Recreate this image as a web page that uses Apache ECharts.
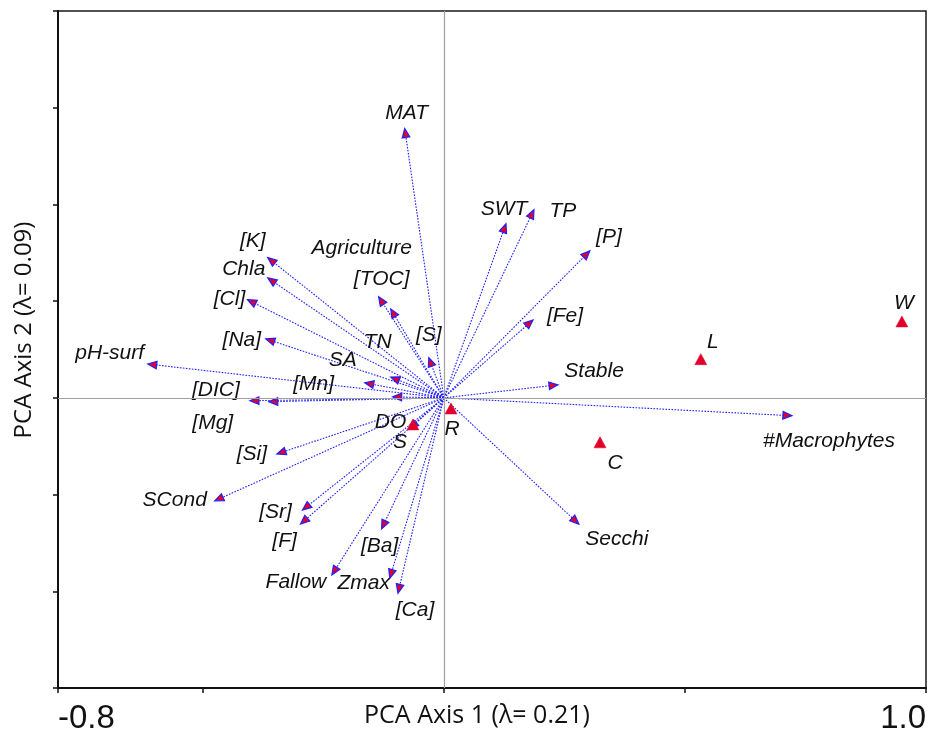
<!DOCTYPE html>
<html>
<head>
<meta charset="utf-8">
<script src="https://cdn.jsdelivr.net/npm/echarts@6/dist/echarts.min.js"></script>
<style>
  html, body { margin: 0; padding: 0; background: #fff; }
  #chart { width: 928px; height: 729px; }
</style>
</head>
<body>
<div id="chart"></div>
<script>
// Environmental variables (biplot arrows): loadings on PCA axes 1 and 2
const variableNames = [
  'MAT', 'SWT', 'TP', '[P]', '[Fe]', 'Stable', '#Macrophytes', 'Secchi',
  '[Ca]', 'Zmax', 'Fallow', '[Ba]', '[F]', '[Sr]', 'SCond', '[Si]', 'DO',
  '[Mg]', '[DIC]', 'pH-surf', '[Na]', '[Cl]', 'Chla', '[K]', '[Mn]', 'SA',
  'TN', '[TOC]', 'Agriculture', '[S]'
];
const axis1Loadings = [
  -0.081, 0.129, 0.187, 0.303, 0.185, 0.237, 0.722, 0.280,
  -0.095, -0.112, -0.232, -0.129, -0.297, -0.293, -0.475, -0.346, -0.071,
  -0.363, -0.402, -0.614, -0.369, -0.407, -0.365, -0.365, -0.164, -0.106,
  -0.110, -0.135, -0.110, -0.031
];
const axis2Loadings = [
  0.557, 0.360, 0.389, 0.304, 0.161, 0.027, -0.037, -0.261,
  -0.404, -0.373, -0.366, -0.271, -0.261, -0.232, -0.213, -0.116, -0.064,
  -0.008, -0.006, 0.070, 0.122, 0.203, 0.248, 0.290, 0.031, 0.002,
  0.043, 0.209, 0.184, 0.083
];

// Sites (sample scores)
const siteNames = ['S', 'R', 'C', 'L', 'W'];
const siteAxis1 = [-0.064, 0.015, 0.324, 0.533, 0.950];
const siteAxis2 = [-0.056, -0.023, -0.093, 0.079, 0.157];

// Axis ticks and labels
const xTickValues = [-0.8, -0.5, 0, 0.5, 1.0];
const xLabelValues = [-0.8, 1.0];
const xLabelText = ['-0.8', '1.0'];
const xTitle = 'PCA Axis 1 (λ= 0.21)';
const yTitle = 'PCA Axis 2 (λ= 0.09)';

// Label placement relative to each arrow tip / site marker (pixels)
const labelNudge = {
  'MAT': [2, -15], 'SWT': [-2, -15], 'TP': [29, 1], '[P]': [19, -14],
  '[Fe]': [32, -4], 'Stable': [36, -14], '#Macrophytes': [37, 25],
  'Secchi': [38, 15], '[Ca]': [17, 17], 'Zmax': [-26, 5], 'Fallow': [-36, 7],
  '[Ba]': [-2, 17], '[F]': [-16, 17], '[Sr]': [-27, 2], 'SCond': [-40, -1],
  '[Si]': [-25, 0], 'DO': [-19, -7], '[Mg]': [-56, 21], '[DIC]': [-34, -11],
  'pH-surf': [-38, -11], '[Na]': [-24, 1], '[Cl]': [-18, -1], 'Chla': [-24, -9],
  '[K]': [-15, -16], '[Mn]': [-51, 1], 'SA': [-50, -37], 'TN': [-13, -35],
  '[TOC]': [3, -18], 'Agriculture': [-29, -61], '[S]': [0, -23]
};
const siteNudge = {
  'S': [-13, 17], 'R': [1, 20], 'C': [15, 20], 'L': [12, -17], 'W': [2, -19]
};

const labelFont = 'italic 21px "Liberation Sans", Arial, sans-serif';
const titleFont = '"Open Sans", "Liberation Sans", sans-serif';
const arrowBlue = '#2020ff';
const markRed = '#e2002b';

const arrowData = variableNames.map((n, i) => [axis1Loadings[i], axis2Loadings[i]]);
const siteData = siteNames.map((n, i) => [siteAxis1[i], siteAxis2[i]]);

const chart = echarts.init(document.getElementById('chart'), null, { renderer: 'canvas' });

chart.setOption({
  animation: false,
  backgroundColor: '#fff',
  grid: {
    left: 58, right: 2, top: 11, bottom: 41,
    outerBoundsMode: 'none',
    containLabel: false,
    show: true, borderColor: '#1a1a1a', borderWidth: 1.5, backgroundColor: 'transparent'
  },
  xAxis: {
    type: 'value',
    min: -0.8, max: 1.0,
    splitLine: { show: false },
    axisLine: { onZero: false, lineStyle: { color: '#111', width: 2 } },
    axisTick: { customValues: xTickValues, length: 5, lineStyle: { color: '#111', width: 1.5 } },
    axisLabel: {
      customValues: xLabelValues,
      formatter: v => xLabelText[xLabelValues.findIndex(t => Math.abs(t - v) < 1e-9)],
      fontFamily: '"Liberation Sans", Arial, sans-serif',
      fontSize: 33, color: '#111', margin: 14,
      alignMinLabel: 'left', alignMaxLabel: 'right'
    }
  },
  yAxis: {
    type: 'value',
    min: -0.6, max: 0.8, interval: 0.2,
    splitLine: { show: false },
    axisLine: { onZero: false, lineStyle: { color: '#111', width: 2 } },
    axisTick: { length: 5, lineStyle: { color: '#111', width: 1.5 } },
    axisLabel: { show: false }
  },
  graphic: [
    {
      type: 'text', x: 477, y: 716,
      style: {
        text: xTitle, align: 'center', verticalAlign: 'middle',
        font: '25px ' + titleFont, fill: '#111'
      }
    },
    {
      type: 'text', x: 24, y: 330, rotation: Math.PI / 2,
      style: {
        text: yTitle, align: 'center', verticalAlign: 'middle',
        font: '24px ' + titleFont, fill: '#111'
      }
    }
  ],
  series: [
    {
      // zero reference lines through the origin
      type: 'scatter',
      data: [],
      silent: true,
      markLine: {
        silent: true,
        symbol: 'none',
        label: { show: false },
        lineStyle: { color: '#a0a0a0', width: 1.2, type: 'solid' },
        data: [{ xAxis: 0 }, { yAxis: 0 }]
      }
    },
    {
      // environmental variable arrows
      type: 'custom',
      data: arrowData,
      silent: true,
      z: 3,
      renderItem: (params, api) => {
        const o = api.coord([0, 0]);
        const t = api.coord([api.value(0), api.value(1)]);
        const dx = t[0] - o[0], dy = t[1] - o[1];
        const len = Math.hypot(dx, dy) || 1;
        const ux = dx / len, uy = dy / len;
        const headLen = 9, headHalf = 3.8;
        const bx = t[0] - ux * headLen, by = t[1] - uy * headLen;
        const nx = -uy, ny = ux;
        const name = variableNames[params.dataIndex];
        const off = labelNudge[name] || [0, -14];
        return {
          type: 'group',
          children: [
            {
              type: 'line',
              shape: { x1: o[0], y1: o[1], x2: bx, y2: by },
              style: { stroke: arrowBlue, lineWidth: 1.1, lineDash: [1.6, 1.4] }
            },
            {
              type: 'polygon',
              shape: { points: [[t[0], t[1]], [bx + nx * headHalf, by + ny * headHalf], [bx - nx * headHalf, by - ny * headHalf]] },
              style: { fill: markRed, stroke: arrowBlue, lineWidth: 1.2 }
            },
            {
              type: 'text',
              style: {
                text: name, x: t[0] + off[0], y: t[1] + off[1],
                align: 'center', verticalAlign: 'middle',
                font: labelFont, fill: '#111'
              }
            }
          ]
        };
      }
    },
    {
      // site scores (red triangles)
      type: 'custom',
      data: siteData,
      silent: true,
      z: 4,
      renderItem: (params, api) => {
        const p = api.coord([api.value(0), api.value(1)]);
        const name = siteNames[params.dataIndex];
        const off = siteNudge[name] || [0, -16];
        return {
          type: 'group',
          children: [
            {
              type: 'polygon',
              shape: { points: [[p[0], p[1] - 6], [p[0] + 6, p[1] + 5], [p[0] - 6, p[1] + 5]] },
              style: { fill: markRed, stroke: markRed, lineWidth: 0.5 }
            },
            {
              type: 'text',
              style: {
                text: name, x: p[0] + off[0], y: p[1] + off[1],
                align: 'center', verticalAlign: 'middle',
                font: labelFont, fill: '#111'
              }
            }
          ]
        };
      }
    }
  ]
});
</script>
</body>
</html>
